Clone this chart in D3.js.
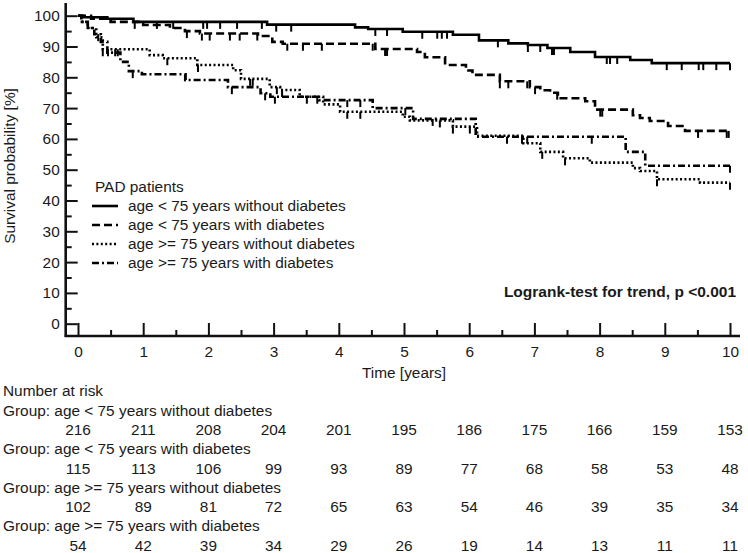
<!DOCTYPE html>
<html>
<head>
<meta charset="utf-8">
<script src="https://cdn.jsdelivr.net/npm/d3@7"></script>
<style>
  body { margin: 0; background: #fff; }
  svg text { font-family: "Liberation Sans", Arial, sans-serif; fill: #1a1a1a; }
</style>
</head>
<body>
<svg id="chart" width="748" height="553"></svg>
<script>
// Kaplan-Meier step data (time in years, survival in %)
const timesG1 = [0, 0.08, 0.45, 0.85, 2.9, 4.25, 4.45, 4.98, 5.75, 6.15, 6.6, 6.9, 7.2, 7.55, 7.93, 8.47, 8.8];
const survG1  = [100, 99.5, 99, 98, 97.1, 96.2, 95.7, 94.8, 93.8, 92, 91, 90.5, 89.5, 88.2, 86.6, 85.6, 84.6];
const censorG1 = [0.87, 1.21, 1.46, 1.92, 1.98, 2.18, 2.44, 2.82, 3.04, 3.27, 4.56, 4.74, 5.28, 5.51, 5.58, 5.66,
  6.44, 6.9, 7.09, 7.27, 7.3, 8.11, 8.16, 8.27, 9.03, 9.26, 9.52, 9.59, 9.79, 10];

const timesG2 = [0, 0.2, 0.5, 1.0, 1.41, 1.64, 1.87, 2.76, 2.98, 3.14, 4.56, 5.2, 5.32, 5.63, 5.95, 6.05, 6.47,
  6.93, 7.09, 7.24, 7.36, 7.78, 7.93, 8.51, 8.62, 8.77, 9.05, 9.31];
const survG2  = [100, 99, 98, 97, 96, 95, 94.2, 93.4, 91.5, 90.9, 89.2, 88.2, 86.5, 84, 82.2, 80.8, 78.7,
  76.8, 75.8, 75, 73.2, 72.2, 69.5, 67.7, 66.8, 65.8, 64.2, 62.6];
const censorG2 = [1.67, 1.9, 2.02, 2.33, 2.48, 2.75, 3.21, 3.45, 3.74, 4.52, 4.71, 4.74, 6.47, 6.6, 6.89, 7.01,
  7.35, 8.01, 8.04, 9.51, 9.95, 9.98];

const timesG3 = [0, 0.06, 0.15, 0.28, 0.38, 1.1, 1.3, 1.83, 2.38, 2.5, 2.94, 3.1, 3.4, 3.76, 4.02, 4.98, 5.09,
  5.75, 6.12, 6.83, 7.09, 7.44, 7.85, 8.51, 8.62, 8.88, 9.54];
const survG3  = [100, 98, 96, 93, 89.1, 87.2, 86.2, 84, 82.3, 79.5, 76.8, 75.9, 73.7, 71.2, 68.8, 67.2, 66,
  64, 61, 58.6, 55.8, 53.7, 52.3, 50.5, 49.6, 46.9, 45.8];
const censorG3 = [0.38, 0.46, 0.57, 0.61, 1.37, 1.84, 2.64, 2.68, 3.05, 3.13, 3.67, 4.13, 4.33, 5.55, 5.75, 6.01,
  7.12, 7.47, 8.88, 10];

const timesG4 = [0, 0.05, 0.15, 0.25, 0.35, 0.45, 0.65, 0.78, 0.98, 1.65, 2.3, 2.8, 2.95, 3.7, 4.52, 5.14, 6.1, 8.4, 8.7];
const survG4  = [100, 98, 96, 94, 91.5, 88, 85, 82, 81, 79.1, 76.8, 74.8, 73.7, 72.6, 70, 66.5, 60.7, 55.8, 51.3];
const censorG4 = [0.31, 0.84, 1.64, 2.36, 2.87, 3.02, 3.51, 4.13, 4.33, 5.02, 5.44, 6.58, 6.81, 6.89, 7.88, 10];

const groupNames = [
  "age < 75 years without diabetes",
  "age < 75 years with diabetes",
  "age >= 75 years without diabetes",
  "age >= 75 years with diabetes"
];

// Number at risk table
const riskTimes = [0, 1, 2, 3, 4, 5, 6, 7, 8, 9, 10];
const riskG1 = [216, 211, 208, 204, 201, 195, 186, 175, 166, 159, 153];
const riskG2 = [115, 113, 106, 99, 93, 89, 77, 68, 58, 53, 48];
const riskG3 = [102, 89, 81, 72, 65, 63, 54, 46, 39, 35, 34];
const riskG4 = [54, 42, 39, 34, 29, 26, 19, 14, 13, 11, 11];

const groups = [
  { name: groupNames[0], times: timesG1, surv: survG1, censor: censorG1, risk: riskG1, dash: null },
  { name: groupNames[1], times: timesG2, surv: survG2, censor: censorG2, risk: riskG2, dash: "8,4" },
  { name: groupNames[2], times: timesG3, surv: survG3, censor: censorG3, risk: riskG3, dash: "2,2.4" },
  { name: groupNames[3], times: timesG4, surv: survG4, censor: censorG4, risk: riskG4, dash: "7,3,2,3" }
];

const fs = 15.4;
const svg = d3.select("#chart");

// Scales
const x = d3.scaleLinear().domain([0, 10]).range([78, 730]);
const y = d3.scaleLinear().domain([0, 100]).range([323.7, 15.7]);
const axisX0 = 65.7, axisY0 = 336;

// Y axis (ticks point inward)
const yMajor = svg.append("g")
  .attr("transform", `translate(${axisX0},0)`)
  .call(d3.axisLeft(y).tickValues(d3.range(0, 101, 10)).tickSize(-12).tickPadding(6));
const yMinor = svg.append("g")
  .attr("transform", `translate(${axisX0},0)`)
  .call(d3.axisLeft(y).tickValues(d3.range(5, 100, 10)).tickSize(-6).tickFormat(""));

// X axis
const xMajor = svg.append("g")
  .attr("transform", `translate(0,${axisY0})`)
  .call(d3.axisBottom(x).tickValues(d3.range(0, 11)).tickSize(-13).tickPadding(10));
const xMinor = svg.append("g")
  .attr("transform", `translate(0,${axisY0})`)
  .call(d3.axisBottom(x).tickValues(d3.range(0.5, 10, 1)).tickSize(-6).tickFormat(""));

[yMajor, yMinor, xMajor, xMinor].forEach(g => {
  g.select(".domain").remove();
  g.selectAll(".tick line").attr("stroke", "#111").attr("stroke-width", 2);
  g.selectAll(".tick text").attr("font-size", fs).attr("fill", "#1a1a1a")
    .style("font-family", "'Liberation Sans', Arial, sans-serif");
});

// axis lines
svg.append("line")
  .attr("x1", axisX0).attr("x2", axisX0).attr("y1", 3).attr("y2", axisY0 + 1)
  .attr("stroke", "#111").attr("stroke-width", 2.6);
svg.append("line")
  .attr("x1", axisX0 - 1).attr("x2", 740).attr("y1", axisY0).attr("y2", axisY0)
  .attr("stroke", "#111").attr("stroke-width", 2.6);

// Axis titles
svg.append("text")
  .attr("transform", "translate(15,166) rotate(-90)")
  .attr("text-anchor", "middle")
  .attr("font-size", fs)
  .text("Survival probability [%]");

svg.append("text")
  .attr("x", 404).attr("y", 378)
  .attr("text-anchor", "middle")
  .attr("font-size", fs)
  .text("Time [years]");

// Survival curves
const line = d3.line()
  .x(d => x(d[0]))
  .y(d => y(d[1]))
  .curve(d3.curveStepAfter);

function survAt(g, t) {
  const i = d3.bisectRight(g.times, t) - 1;
  return g.surv[Math.max(0, i)];
}

groups.forEach(g => {
  const pts = g.times.map((t, i) => [t, g.surv[i]]);
  pts.push([10, g.surv[g.surv.length - 1]]);
  svg.append("path")
    .datum(pts)
    .attr("d", line)
    .attr("fill", "none")
    .attr("stroke", "#000")
    .attr("stroke-width", 2.6)
    .attr("stroke-dasharray", g.dash);

  // censor marks
  svg.append("g").selectAll("line")
    .data(g.censor)
    .join("line")
    .attr("x1", d => x(d)).attr("x2", d => x(d))
    .attr("y1", d => y(survAt(g, d)))
    .attr("y2", d => y(survAt(g, d)) + 7)
    .attr("stroke", "#000")
    .attr("stroke-width", 2);
});

// Legend
svg.append("text")
  .attr("x", 95).attr("y", 187).attr("dy", "0.35em")
  .attr("font-size", fs)
  .text("PAD patients");

const legend = svg.append("g");
groups.forEach((g, i) => {
  const ly = 206 + i * 19;
  legend.append("line")
    .attr("x1", 92).attr("x2", 118).attr("y1", ly).attr("y2", ly)
    .attr("stroke", "#000").attr("stroke-width", 2.6)
    .attr("stroke-dasharray", g.dash);
  legend.append("text")
    .attr("x", 128).attr("y", ly).attr("dy", "0.35em")
    .attr("font-size", fs)
    .text(g.name);
});

// Logrank annotation
svg.append("text")
  .attr("x", 736).attr("y", 292).attr("dy", "0.35em")
  .attr("text-anchor", "end")
  .attr("font-size", 15.5)
  .attr("font-weight", "bold")
  .text("Logrank-test for trend, p <0.001");

// Number at risk table
const rowH = 19.3;
const table = svg.append("g");
table.append("text")
  .attr("x", 3).attr("y", 391).attr("dy", "0.35em")
  .attr("font-size", fs)
  .text("Number at risk");

groups.forEach((g, i) => {
  const gy = 391 + rowH * (1 + 2 * i);
  table.append("text")
    .attr("x", 3).attr("y", gy).attr("dy", "0.35em")
    .attr("font-size", fs)
    .text("Group: " + g.name);
  table.append("g").selectAll("text")
    .data(riskTimes)
    .join("text")
    .attr("x", d => x(d))
    .attr("y", gy + rowH)
    .attr("dy", "0.35em")
    .attr("text-anchor", "middle")
    .attr("font-size", fs)
    .text((d, j) => g.risk[j]);
});
</script>
</body>
</html>
